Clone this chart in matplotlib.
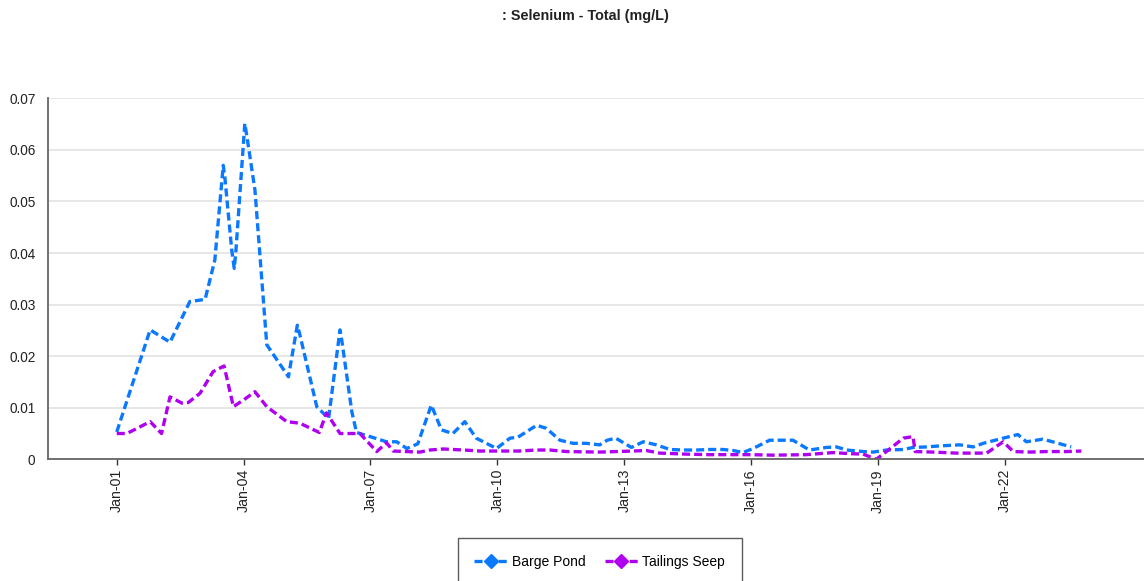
import pandas as pd
import matplotlib
matplotlib.use('Agg')
import matplotlib.pyplot as plt
import matplotlib.dates as mdates
from matplotlib.lines import Line2D

plt.rcParams['font.family'] = ['Liberation Sans', 'DejaVu Sans']
plt.rcParams['lines.scale_dashes'] = False

# sample times in decimal years, values in mg/L
barge_t = [2001.00, 2001.79, 2002.26, 2002.73, 2003.09, 2003.32, 2003.52, 2003.56,
           2003.72, 2003.78, 2003.82, 2004.03, 2004.08, 2004.27, 2004.55, 2005.06,
           2005.27, 2005.32, 2005.73, 2006.01, 2006.28, 2006.32, 2006.56, 2006.67,
           2006.99, 2007.38, 2007.62, 2007.86, 2008.12, 2008.44, 2008.68, 2008.95,
           2009.23, 2009.50, 2009.98, 2010.30, 2010.49, 2010.93, 2011.16, 2011.48,
           2011.79, 2012.10, 2012.42, 2012.60, 2012.80, 2013.17, 2013.45, 2013.76,
           2014.08, 2014.40, 2014.71, 2015.02, 2015.34, 2015.58, 2015.81, 2016.05,
           2016.44, 2016.99, 2017.38, 2017.78, 2018.02, 2018.26, 2018.65, 2018.89,
           2019.20, 2019.60, 2019.83, 2020.15, 2020.46, 2020.94, 2021.25, 2021.49,
           2021.96, 2022.31, 2022.51, 2022.90, 2023.22, 2023.57]
barge_v = [0.0053, 0.0251, 0.0227, 0.0306, 0.0310, 0.0386, 0.0570, 0.0545,
           0.0406, 0.0370, 0.0405, 0.0651, 0.0626, 0.0522, 0.0222, 0.0160,
           0.0260, 0.0245, 0.0102, 0.0079, 0.0251, 0.0232, 0.0092, 0.0052,
           0.0044, 0.0034, 0.0034, 0.0021, 0.0030, 0.0105, 0.0057, 0.0050,
           0.0073, 0.0041, 0.0021, 0.0041, 0.0043, 0.0066, 0.0060, 0.0037,
           0.0031, 0.0031, 0.0028, 0.0037, 0.0041, 0.0023, 0.0034, 0.0028,
           0.0019, 0.0018, 0.0018, 0.0019, 0.0019, 0.0017, 0.0013, 0.0021,
           0.0037, 0.0037, 0.0018, 0.0023, 0.0024, 0.0018, 0.0015, 0.0014,
           0.0018, 0.0019, 0.0023, 0.0024, 0.0026, 0.0028, 0.0024, 0.0031,
           0.0041, 0.0048, 0.0034, 0.0039, 0.0032, 0.0024]

seep_t = [2001.00, 2001.24, 2001.79, 2002.06, 2002.26, 2002.54, 2002.69, 2002.97,
          2003.28, 2003.54, 2003.76, 2004.00, 2004.27, 2004.55, 2005.02, 2005.33,
          2005.79, 2005.96, 2006.28, 2006.75, 2007.15, 2007.38, 2007.54, 2007.86,
          2008.17, 2008.41, 2008.72, 2009.20, 2009.60, 2010.50, 2010.93, 2011.24,
          2011.64, 2012.42, 2012.82, 2013.20, 2013.52, 2013.84, 2014.47, 2015.00,
          2016.00, 2016.52, 2017.30, 2017.94, 2018.33, 2018.65, 2018.96, 2019.20,
          2019.60, 2019.83, 2019.88, 2020.30, 2020.86, 2021.57, 2021.96, 2022.20,
          2022.59, 2022.99, 2023.46, 2023.81]
seep_v = [0.0050, 0.0050, 0.0073, 0.0050, 0.0121, 0.0109, 0.0110, 0.0128,
          0.0170, 0.0181, 0.0102, 0.0115, 0.0131, 0.0102, 0.0073, 0.0070,
          0.0052, 0.0090, 0.0050, 0.0050, 0.0015, 0.0032, 0.0016, 0.0015,
          0.0014, 0.0018, 0.0020, 0.0018, 0.0016, 0.0016, 0.0018, 0.0018,
          0.0015, 0.0014, 0.0015, 0.0016, 0.0017, 0.0012, 0.0010, 0.0009,
          0.0009, 0.0008, 0.0009, 0.0013, 0.0011, 0.0010, 0.0000, 0.0015,
          0.0041, 0.0044, 0.0015, 0.0014, 0.0012, 0.0012, 0.0034, 0.0015,
          0.0014, 0.0015, 0.0015, 0.0016]

tick_years = [2001, 2004, 2007, 2010, 2013, 2016, 2019, 2022]
y_ticks = [0, 0.01, 0.02, 0.03, 0.04, 0.05, 0.06, 0.07]
y_labels = ['0', '0.01', '0.02', '0.03', '0.04', '0.05', '0.06', '0.07']


def to_dates(years):
    out = []
    for y in years:
        yr = int(y)
        out.append(pd.Timestamp(year=yr, month=1, day=1) + pd.Timedelta(days=(y - yr) * 365.25))
    return out


blue = '#0a78ff'
purple = '#b000f0'
dash = (0, (5.8, 2.9))

fig = plt.figure(figsize=(11.44, 5.81), dpi=100)
ax = fig.add_axes([48 / 1144, 1 - 459.3 / 581, 1 - 48 / 1144, (459.3 - 98.3) / 581])

ax.plot(to_dates(barge_t), barge_v, color=blue, lw=2.4, linestyle=dash)
ax.plot(to_dates(seep_t), seep_v, color=purple, lw=2.4, linestyle=dash)

ax.set_ylim(0, 0.07)
ax.set_yticks(y_ticks)
ax.set_yticklabels(y_labels)
ax.set_xlim(to_dates([1999.376])[0], to_dates([2025.29])[0])
ax.set_xticks(to_dates(tick_years))
ax.xaxis.set_major_formatter(mdates.DateFormatter('%b-%y'))

ax.grid(axis='y', color='#e3e3e3', lw=1.2)
ax.grid(False, axis='x')
ax.set_axisbelow(True)
for s in ['top', 'right']:
    ax.spines[s].set_visible(False)
for s in ['left', 'bottom']:
    ax.spines[s].set_color('#666666')
    ax.spines[s].set_linewidth(1.3)

ax.tick_params(axis='y', length=0, pad=9, labelsize=9.8, labelcolor='#222222')
ax.tick_params(axis='x', length=4, width=1, color='#333333', pad=3,
               labelsize=10.2, labelcolor='#222222', labelrotation=90)

fig.text(585 / 1144, 1 - 16 / 581, ': Selenium - Total (mg/L)', ha='center', va='center',
         fontsize=10.4, fontweight='bold', color='#222222')

handles = [Line2D([], [], color=blue, lw=2.4, linestyle=dash, marker='D', markersize=7),
           Line2D([], [], color=purple, lw=2.4, linestyle=dash, marker='D', markersize=7)]
leg = fig.legend(handles, ['Barge Pond', 'Tailings Seep'], loc='upper left',
                 bbox_to_anchor=(457.5 / 1144, 1 - 538 / 581), ncol=2, fontsize=10,
                 frameon=True, fancybox=False, borderpad=1.2, handlelength=2.4,
                 handletextpad=0.3, columnspacing=1.4, borderaxespad=0)
leg.get_frame().set_edgecolor('#333333')
leg.get_frame().set_linewidth(1.0)

plt.savefig('out.png', dpi=100)
